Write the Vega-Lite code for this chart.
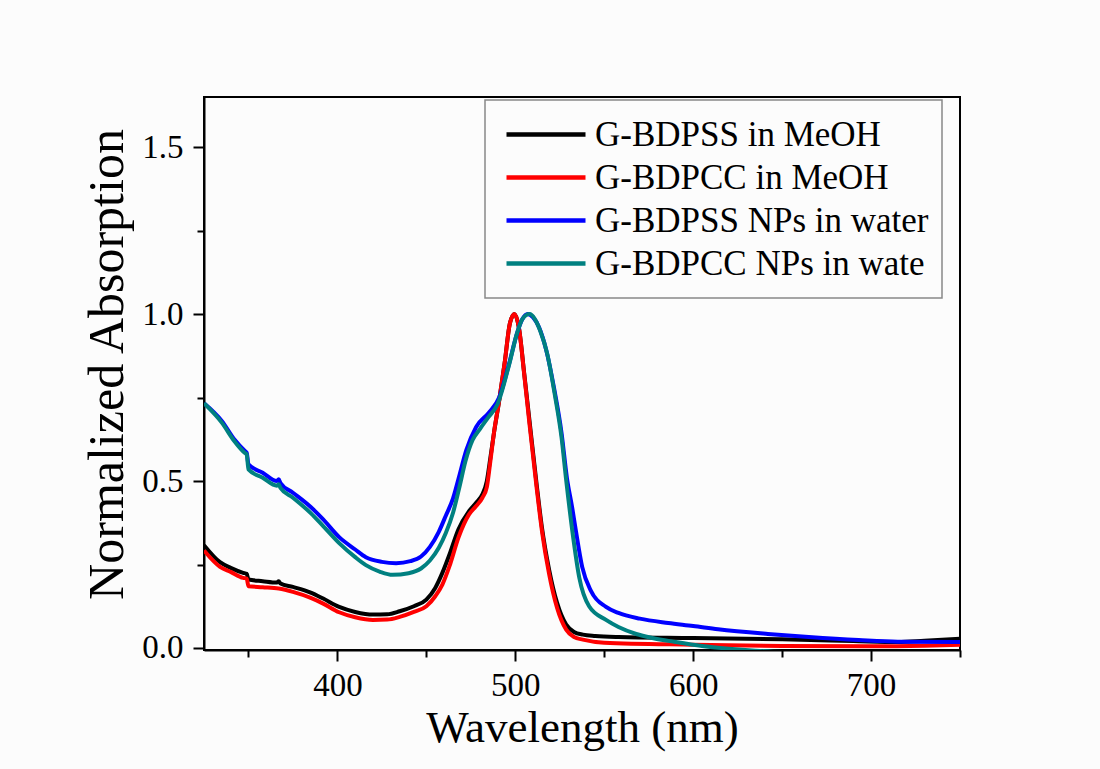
{
  "$schema": "https://vega.github.io/schema/vega-lite/v6.json",
  "autosize": "none",
  "width": 756,
  "height": 553,
  "padding": {"left": 204, "top": 97, "right": 140, "bottom": 119},
  "background": "#fcfcfc",
  "config": {
    "view": {"stroke": "#000000", "strokeWidth": 2},
    "font": "Liberation Serif",
    "legend": {"strokeWidth": 1.5}
  },
  "data": {
    "values": [
      {"s":"G-BDPSS in MeOH","x":325,"y":0.308},{"s":"G-BDPSS in MeOH","x":334,"y":0.257},{"s":"G-BDPSS in MeOH","x":340,"y":0.24},{"s":"G-BDPSS in MeOH","x":347,"y":0.225},{"s":"G-BDPSS in MeOH","x":349,"y":0.222},{"s":"G-BDPSS in MeOH","x":350,"y":0.205},{"s":"G-BDPSS in MeOH","x":358,"y":0.2},{"s":"G-BDPSS in MeOH","x":366,"y":0.196},{"s":"G-BDPSS in MeOH","x":367,"y":0.2},{"s":"G-BDPSS in MeOH","x":368,"y":0.193},{"s":"G-BDPSS in MeOH","x":375,"y":0.183},{"s":"G-BDPSS in MeOH","x":385,"y":0.166},{"s":"G-BDPSS in MeOH","x":392,"y":0.148},{"s":"G-BDPSS in MeOH","x":401,"y":0.123},{"s":"G-BDPSS in MeOH","x":410,"y":0.108},{"s":"G-BDPSS in MeOH","x":420,"y":0.1},{"s":"G-BDPSS in MeOH","x":428,"y":0.101},{"s":"G-BDPSS in MeOH","x":435,"y":0.11},{"s":"G-BDPSS in MeOH","x":443,"y":0.125},{"s":"G-BDPSS in MeOH","x":450,"y":0.145},{"s":"G-BDPSS in MeOH","x":455,"y":0.18},{"s":"G-BDPSS in MeOH","x":459,"y":0.225},{"s":"G-BDPSS in MeOH","x":463,"y":0.28},{"s":"G-BDPSS in MeOH","x":468,"y":0.355},{"s":"G-BDPSS in MeOH","x":474,"y":0.41},{"s":"G-BDPSS in MeOH","x":478,"y":0.435},{"s":"G-BDPSS in MeOH","x":481.5,"y":0.46},{"s":"G-BDPSS in MeOH","x":484,"y":0.5},{"s":"G-BDPSS in MeOH","x":486,"y":0.57},{"s":"G-BDPSS in MeOH","x":488,"y":0.644},{"s":"G-BDPSS in MeOH","x":491,"y":0.743},{"s":"G-BDPSS in MeOH","x":494,"y":0.853},{"s":"G-BDPSS in MeOH","x":497,"y":0.973},{"s":"G-BDPSS in MeOH","x":499.5,"y":1.0},{"s":"G-BDPSS in MeOH","x":502,"y":0.96},{"s":"G-BDPSS in MeOH","x":505,"y":0.823},{"s":"G-BDPSS in MeOH","x":508,"y":0.68},{"s":"G-BDPSS in MeOH","x":512,"y":0.49},{"s":"G-BDPSS in MeOH","x":515,"y":0.36},{"s":"G-BDPSS in MeOH","x":519,"y":0.235},{"s":"G-BDPSS in MeOH","x":523.5,"y":0.135},{"s":"G-BDPSS in MeOH","x":528.6,"y":0.07},{"s":"G-BDPSS in MeOH","x":533,"y":0.048},{"s":"G-BDPSS in MeOH","x":538,"y":0.04},{"s":"G-BDPSS in MeOH","x":545,"y":0.036},{"s":"G-BDPSS in MeOH","x":558,"y":0.033},{"s":"G-BDPSS in MeOH","x":600,"y":0.03},{"s":"G-BDPSS in MeOH","x":650,"y":0.026},{"s":"G-BDPSS in MeOH","x":690,"y":0.021},{"s":"G-BDPSS in MeOH","x":715,"y":0.018},{"s":"G-BDPSS in MeOH","x":730,"y":0.022},{"s":"G-BDPSS in MeOH","x":750,"y":0.028},

      {"s":"G-BDPCC in MeOH","x":325,"y":0.292},{"s":"G-BDPCC in MeOH","x":334,"y":0.243},{"s":"G-BDPCC in MeOH","x":340,"y":0.228},{"s":"G-BDPCC in MeOH","x":347,"y":0.21},{"s":"G-BDPCC in MeOH","x":349,"y":0.208},{"s":"G-BDPCC in MeOH","x":350,"y":0.185},{"s":"G-BDPCC in MeOH","x":358,"y":0.182},{"s":"G-BDPCC in MeOH","x":367,"y":0.178},{"s":"G-BDPCC in MeOH","x":375,"y":0.168},{"s":"G-BDPCC in MeOH","x":385,"y":0.15},{"s":"G-BDPCC in MeOH","x":392,"y":0.133},{"s":"G-BDPCC in MeOH","x":401,"y":0.107},{"s":"G-BDPCC in MeOH","x":410,"y":0.092},{"s":"G-BDPCC in MeOH","x":420,"y":0.084},{"s":"G-BDPCC in MeOH","x":428,"y":0.085},{"s":"G-BDPCC in MeOH","x":435,"y":0.093},{"s":"G-BDPCC in MeOH","x":443,"y":0.108},{"s":"G-BDPCC in MeOH","x":450,"y":0.125},{"s":"G-BDPCC in MeOH","x":455,"y":0.155},{"s":"G-BDPCC in MeOH","x":459,"y":0.19},{"s":"G-BDPCC in MeOH","x":463,"y":0.245},{"s":"G-BDPCC in MeOH","x":468,"y":0.33},{"s":"G-BDPCC in MeOH","x":474,"y":0.4},{"s":"G-BDPCC in MeOH","x":478,"y":0.425},{"s":"G-BDPCC in MeOH","x":481.5,"y":0.45},{"s":"G-BDPCC in MeOH","x":484,"y":0.482},{"s":"G-BDPCC in MeOH","x":486,"y":0.56},{"s":"G-BDPCC in MeOH","x":488,"y":0.644},{"s":"G-BDPCC in MeOH","x":491,"y":0.743},{"s":"G-BDPCC in MeOH","x":494,"y":0.853},{"s":"G-BDPCC in MeOH","x":497,"y":0.973},{"s":"G-BDPCC in MeOH","x":499.5,"y":1.0},{"s":"G-BDPCC in MeOH","x":502,"y":0.96},{"s":"G-BDPCC in MeOH","x":505,"y":0.82},{"s":"G-BDPCC in MeOH","x":508,"y":0.67},{"s":"G-BDPCC in MeOH","x":512,"y":0.48},{"s":"G-BDPCC in MeOH","x":515,"y":0.35},{"s":"G-BDPCC in MeOH","x":519,"y":0.222},{"s":"G-BDPCC in MeOH","x":523.5,"y":0.12},{"s":"G-BDPCC in MeOH","x":528.6,"y":0.055},{"s":"G-BDPCC in MeOH","x":533,"y":0.033},{"s":"G-BDPCC in MeOH","x":538,"y":0.025},{"s":"G-BDPCC in MeOH","x":550,"y":0.016},{"s":"G-BDPCC in MeOH","x":600,"y":0.01},{"s":"G-BDPCC in MeOH","x":650,"y":0.006},{"s":"G-BDPCC in MeOH","x":700,"y":0.005},{"s":"G-BDPCC in MeOH","x":730,"y":0.007},{"s":"G-BDPCC in MeOH","x":750,"y":0.01},

      {"s":"G-BDPSS NPs in water","x":325,"y":0.733},{"s":"G-BDPSS NPs in water","x":335,"y":0.68},{"s":"G-BDPSS NPs in water","x":342,"y":0.625},{"s":"G-BDPSS NPs in water","x":348,"y":0.59},{"s":"G-BDPSS NPs in water","x":349,"y":0.585},{"s":"G-BDPSS NPs in water","x":350,"y":0.55},{"s":"G-BDPSS NPs in water","x":358,"y":0.525},{"s":"G-BDPSS NPs in water","x":366,"y":0.5},{"s":"G-BDPSS NPs in water","x":367,"y":0.505},{"s":"G-BDPSS NPs in water","x":368,"y":0.494},{"s":"G-BDPSS NPs in water","x":375,"y":0.465},{"s":"G-BDPSS NPs in water","x":385,"y":0.422},{"s":"G-BDPSS NPs in water","x":392,"y":0.385},{"s":"G-BDPSS NPs in water","x":401,"y":0.332},{"s":"G-BDPSS NPs in water","x":410,"y":0.295},{"s":"G-BDPSS NPs in water","x":416,"y":0.272},{"s":"G-BDPSS NPs in water","x":425,"y":0.258},{"s":"G-BDPSS NPs in water","x":433,"y":0.254},{"s":"G-BDPSS NPs in water","x":441,"y":0.26},{"s":"G-BDPSS NPs in water","x":447,"y":0.274},{"s":"G-BDPSS NPs in water","x":452,"y":0.303},{"s":"G-BDPSS NPs in water","x":457,"y":0.348},{"s":"G-BDPSS NPs in water","x":461,"y":0.397},{"s":"G-BDPSS NPs in water","x":465,"y":0.448},{"s":"G-BDPSS NPs in water","x":468,"y":0.505},{"s":"G-BDPSS NPs in water","x":472.5,"y":0.593},{"s":"G-BDPSS NPs in water","x":478,"y":0.662},{"s":"G-BDPSS NPs in water","x":485,"y":0.704},{"s":"G-BDPSS NPs in water","x":491,"y":0.751},{"s":"G-BDPSS NPs in water","x":496.6,"y":0.853},{"s":"G-BDPSS NPs in water","x":501,"y":0.943},{"s":"G-BDPSS NPs in water","x":504,"y":0.985},{"s":"G-BDPSS NPs in water","x":507,"y":1.0},{"s":"G-BDPSS NPs in water","x":510,"y":0.99},{"s":"G-BDPSS NPs in water","x":513.4,"y":0.96},{"s":"G-BDPSS NPs in water","x":517.4,"y":0.892},{"s":"G-BDPSS NPs in water","x":522,"y":0.772},{"s":"G-BDPSS NPs in water","x":526,"y":0.644},{"s":"G-BDPSS NPs in water","x":529,"y":0.51},{"s":"G-BDPSS NPs in water","x":532,"y":0.42},{"s":"G-BDPSS NPs in water","x":534,"y":0.353},{"s":"G-BDPSS NPs in water","x":537.6,"y":0.243},{"s":"G-BDPSS NPs in water","x":542.6,"y":0.17},{"s":"G-BDPSS NPs in water","x":551,"y":0.123},{"s":"G-BDPSS NPs in water","x":558,"y":0.105},{"s":"G-BDPSS NPs in water","x":570,"y":0.088},{"s":"G-BDPSS NPs in water","x":586,"y":0.075},{"s":"G-BDPSS NPs in water","x":600,"y":0.066},{"s":"G-BDPSS NPs in water","x":614,"y":0.056},{"s":"G-BDPSS NPs in water","x":642,"y":0.042},{"s":"G-BDPSS NPs in water","x":665,"y":0.033},{"s":"G-BDPSS NPs in water","x":693,"y":0.024},{"s":"G-BDPSS NPs in water","x":715,"y":0.019},{"s":"G-BDPSS NPs in water","x":750,"y":0.018},

      {"s":"G-BDPCC NPs in wate","x":325,"y":0.733},{"s":"G-BDPCC NPs in wate","x":335,"y":0.675},{"s":"G-BDPCC NPs in wate","x":342,"y":0.62},{"s":"G-BDPCC NPs in wate","x":348,"y":0.584},{"s":"G-BDPCC NPs in wate","x":349,"y":0.58},{"s":"G-BDPCC NPs in wate","x":350,"y":0.535},{"s":"G-BDPCC NPs in wate","x":358,"y":0.51},{"s":"G-BDPCC NPs in wate","x":366,"y":0.486},{"s":"G-BDPCC NPs in wate","x":367,"y":0.49},{"s":"G-BDPCC NPs in wate","x":368,"y":0.479},{"s":"G-BDPCC NPs in wate","x":375,"y":0.45},{"s":"G-BDPCC NPs in wate","x":385,"y":0.404},{"s":"G-BDPCC NPs in wate","x":392,"y":0.365},{"s":"G-BDPCC NPs in wate","x":401,"y":0.314},{"s":"G-BDPCC NPs in wate","x":410,"y":0.272},{"s":"G-BDPCC NPs in wate","x":416,"y":0.248},{"s":"G-BDPCC NPs in wate","x":424,"y":0.228},{"s":"G-BDPCC NPs in wate","x":431,"y":0.219},{"s":"G-BDPCC NPs in wate","x":440,"y":0.224},{"s":"G-BDPCC NPs in wate","x":447,"y":0.238},{"s":"G-BDPCC NPs in wate","x":452,"y":0.262},{"s":"G-BDPCC NPs in wate","x":457,"y":0.3},{"s":"G-BDPCC NPs in wate","x":461,"y":0.345},{"s":"G-BDPCC NPs in wate","x":465,"y":0.405},{"s":"G-BDPCC NPs in wate","x":468.6,"y":0.482},{"s":"G-BDPCC NPs in wate","x":472,"y":0.56},{"s":"G-BDPCC NPs in wate","x":476,"y":0.623},{"s":"G-BDPCC NPs in wate","x":480,"y":0.655},{"s":"G-BDPCC NPs in wate","x":485,"y":0.692},{"s":"G-BDPCC NPs in wate","x":490,"y":0.73},{"s":"G-BDPCC NPs in wate","x":496.6,"y":0.85},{"s":"G-BDPCC NPs in wate","x":501,"y":0.943},{"s":"G-BDPCC NPs in wate","x":504,"y":0.985},{"s":"G-BDPCC NPs in wate","x":508,"y":1.0},{"s":"G-BDPCC NPs in wate","x":511,"y":0.985},{"s":"G-BDPCC NPs in wate","x":514,"y":0.95},{"s":"G-BDPCC NPs in wate","x":518,"y":0.88},{"s":"G-BDPCC NPs in wate","x":522,"y":0.765},{"s":"G-BDPCC NPs in wate","x":526,"y":0.63},{"s":"G-BDPCC NPs in wate","x":528.6,"y":0.503},{"s":"G-BDPCC NPs in wate","x":532,"y":0.353},{"s":"G-BDPCC NPs in wate","x":536,"y":0.21},{"s":"G-BDPCC NPs in wate","x":541.5,"y":0.125},{"s":"G-BDPCC NPs in wate","x":551,"y":0.084},{"s":"G-BDPCC NPs in wate","x":558,"y":0.063},{"s":"G-BDPCC NPs in wate","x":568,"y":0.042},{"s":"G-BDPCC NPs in wate","x":577,"y":0.03},{"s":"G-BDPCC NPs in wate","x":590,"y":0.018},{"s":"G-BDPCC NPs in wate","x":605,"y":0.006},{"s":"G-BDPCC NPs in wate","x":620,"y":-0.002},{"s":"G-BDPCC NPs in wate","x":635,"y":-0.008},{"s":"G-BDPCC NPs in wate","x":650,"y":-0.012},{"s":"G-BDPCC NPs in wate","x":750,"y":-0.015}
    ]
  },
  "mark": {"type": "line", "strokeWidth": 4, "interpolate": "monotone", "clip": true},
  "encoding": {
    "x": {
      "field": "x", "type": "quantitative",
      "scale": {"domain": [325, 750], "nice": false, "zero": false},
      "axis": {
        "title": "Wavelength (nm)",
        "values": [350, 400, 450, 500, 550, 600, 650, 700, 750],
        "labelExpr": "datum.value % 100 === 0 ? datum.value : ''",
        "tickSize": {"condition": {"test": "datum.value % 100 !== 0", "value": 7}, "value": 11},
        "tickColor": "#000000", "tickWidth": 2,
        "domainColor": "#000000", "domainWidth": 2,
        "grid": false,
        "labelFont": "Liberation Serif", "labelFontSize": 33, "labelColor": "#000000",
        "labelPadding": 8, "labelFlush": false,
        "titleFont": "Liberation Serif", "titleFontSize": 45, "titleFontWeight": "normal", "titleColor": "#000000",
        "titleBaseline": "alphabetic", "titleY": 91
      }
    },
    "y": {
      "field": "y", "type": "quantitative",
      "scale": {"domain": [-0.006, 1.65], "nice": false, "zero": false},
      "axis": {
        "title": "Normalized Absorption",
        "values": [0, 0.25, 0.5, 0.75, 1.0, 1.25, 1.5],
        "labelExpr": "datum.value % 0.5 === 0 ? format(datum.value, '.1f') : ''",
        "tickSize": {"condition": {"test": "datum.value % 0.5 !== 0", "value": 7}, "value": 11},
        "tickColor": "#000000", "tickWidth": 2,
        "domainColor": "#000000", "domainWidth": 2,
        "grid": false,
        "labelFont": "Liberation Serif", "labelFontSize": 33, "labelColor": "#000000",
        "labelPadding": 10, "labelFlush": false,
        "titleFont": "Liberation Serif", "titleFontSize": 50, "titleFontWeight": "normal", "titleColor": "#000000",
        "titleX": -72, "titleY": 267
      }
    },
    "color": {
      "field": "s", "type": "nominal",
      "scale": {
        "domain": ["G-BDPSS in MeOH", "G-BDPCC in MeOH", "G-BDPSS NPs in water", "G-BDPCC NPs in wate"],
        "range": ["#000000", "#ff0000", "#0000ff", "#008080"]
      },
      "legend": {
        "title": null,
        "orient": "none", "legendX": 281, "legendY": 3,
        "padding": 13,
        "fillColor": "#fcfcfc", "strokeColor": "#888888",
        "symbolType": "stroke", "symbolSize": 6241, "symbolStrokeWidth": 4.5, "symbolOffset": 6,
        "labelOffset": 7, "clipHeight": 43, "rowPadding": 0,
        "labelFont": "Liberation Serif", "labelFontSize": 35, "labelColor": "#000000", "labelLimit": 0
      }
    }
  }
}
